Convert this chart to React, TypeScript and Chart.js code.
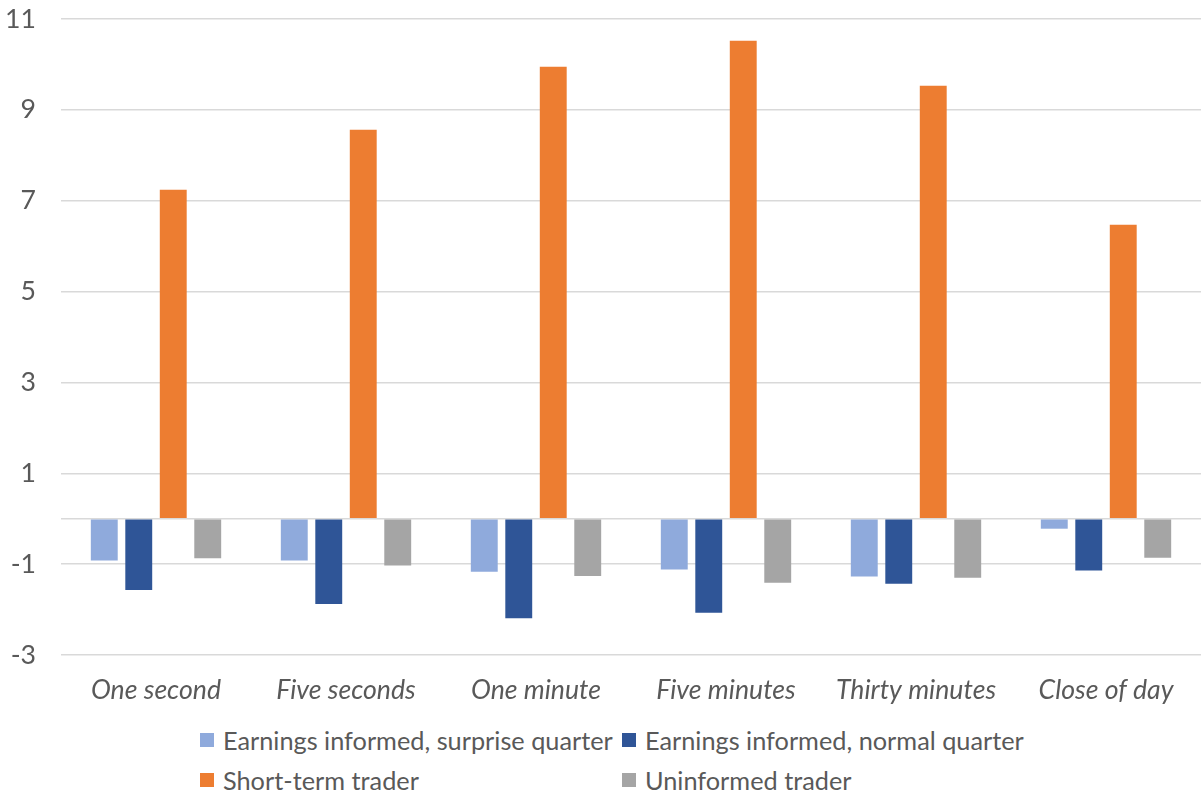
import React, { useEffect, useRef } from "react";
import { Chart, registerables } from "chart.js";

Chart.register(...registerables);

const categories = ["One second", "Five seconds", "One minute", "Five minutes", "Thirty minutes", "Close of day"];
const surpriseQuarter = [-0.92, -0.92, -1.17, -1.12, -1.27, -0.22];
const normalQuarter = [-1.57, -1.88, -2.19, -2.07, -1.43, -1.14];
const shortTerm = [7.24, 8.56, 9.95, 10.52, 9.53, 6.47];
const uninformed = [-0.87, -1.03, -1.26, -1.41, -1.3, -0.86];
const seriesNames = [
  "Earnings informed, surprise quarter",
  "Earnings informed, normal quarter",
  "Short-term trader",
  "Uninformed trader",
];
const seriesColors = ["#8FAADC", "#2F5597", "#ED7D31", "#A5A5A5"];
const yMin = -3;
const yMax = 11;
const yStep = 2;

const FONT = "Lato, 'Carlito', 'Liberation Sans', sans-serif";
const TEXT = "#595959";

export default function App() {
  const ref = useRef<HTMLCanvasElement | null>(null);

  useEffect(() => {
    if (!ref.current) return;
    const values = [surpriseQuarter, normalQuarter, shortTerm, uninformed];
    const chart = new Chart(ref.current, {
      type: "bar",
      data: {
        labels: categories,
        datasets: values.map((v, i) => ({
          label: seriesNames[i],
          data: v,
          backgroundColor: seriesColors[i],
          borderWidth: 0,
          categoryPercentage: 0.726,
          barPercentage: 0.78,
        })),
      },
      options: {
        animation: false,
        responsive: false,
        maintainAspectRatio: false,
        layout: { padding: { top: 0, left: 0, right: 0, bottom: 0 } },
        plugins: { legend: { display: false }, tooltip: { enabled: false } },
        scales: {
          x: {
            grid: { display: false, drawTicks: false },
            border: { display: false },
            ticks: {
              color: TEXT,
              padding: 19,
              font: { family: FONT, size: 26.67, style: "italic" },
              maxRotation: 0,
              autoSkip: false,
            },
            afterFit: (s: any) => {
              s.height = 65;
            },
          },
          y: {
            min: yMin,
            max: yMax,
            grid: { color: "#d9d9d9", lineWidth: 1.5, drawTicks: false },
            border: { display: false },
            ticks: {
              stepSize: yStep,
              color: TEXT,
              padding: 25,
              autoSkip: false,
              font: { family: FONT, size: 26.67 },
              callback: (v: any) => (v === 0 ? "" : String(v)),
            },
            afterBuildTicks: (s: any) => {
              if (!s.ticks.some((t: any) => t.value === 0)) {
                s.ticks.push({ value: 0 });
                s.ticks.sort((a: any, b: any) => a.value - b.value);
              }
            },
            afterFit: (s: any) => {
              s.width = 61;
              s.paddingTop = 19;
              s.paddingBottom = 0;
            },
          },
        },
      },
    });
    return () => chart.destroy();
  }, []);

  const legendPos = [
    { left: 200, top: 740 },
    { left: 622, top: 740 },
    { left: 200, top: 780 },
    { left: 622, top: 780 },
  ];

  return (
    <div style={{ position: "absolute", left: 0, top: 0, width: 1201, height: 798, background: "#fff", overflow: "hidden" }}>
      <canvas ref={ref} width={1201} height={720} style={{ position: "absolute", left: 0, top: 0, width: 1201, height: 720 }} />
      {seriesNames.map((name, i) => (
        <div
          key={name}
          style={{
            position: "absolute",
            left: legendPos[i].left,
            top: legendPos[i].top - 17,
            height: 34,
            display: "flex",
            alignItems: "center",
            whiteSpace: "nowrap",
            fontFamily: FONT,
            fontSize: 25.3,
            color: TEXT,
          }}
        >
          <span style={{ display: "inline-block", width: 14, height: 14, background: seriesColors[i], marginRight: 9 }} />
          <span>{name}</span>
        </div>
      ))}
    </div>
  );
}
